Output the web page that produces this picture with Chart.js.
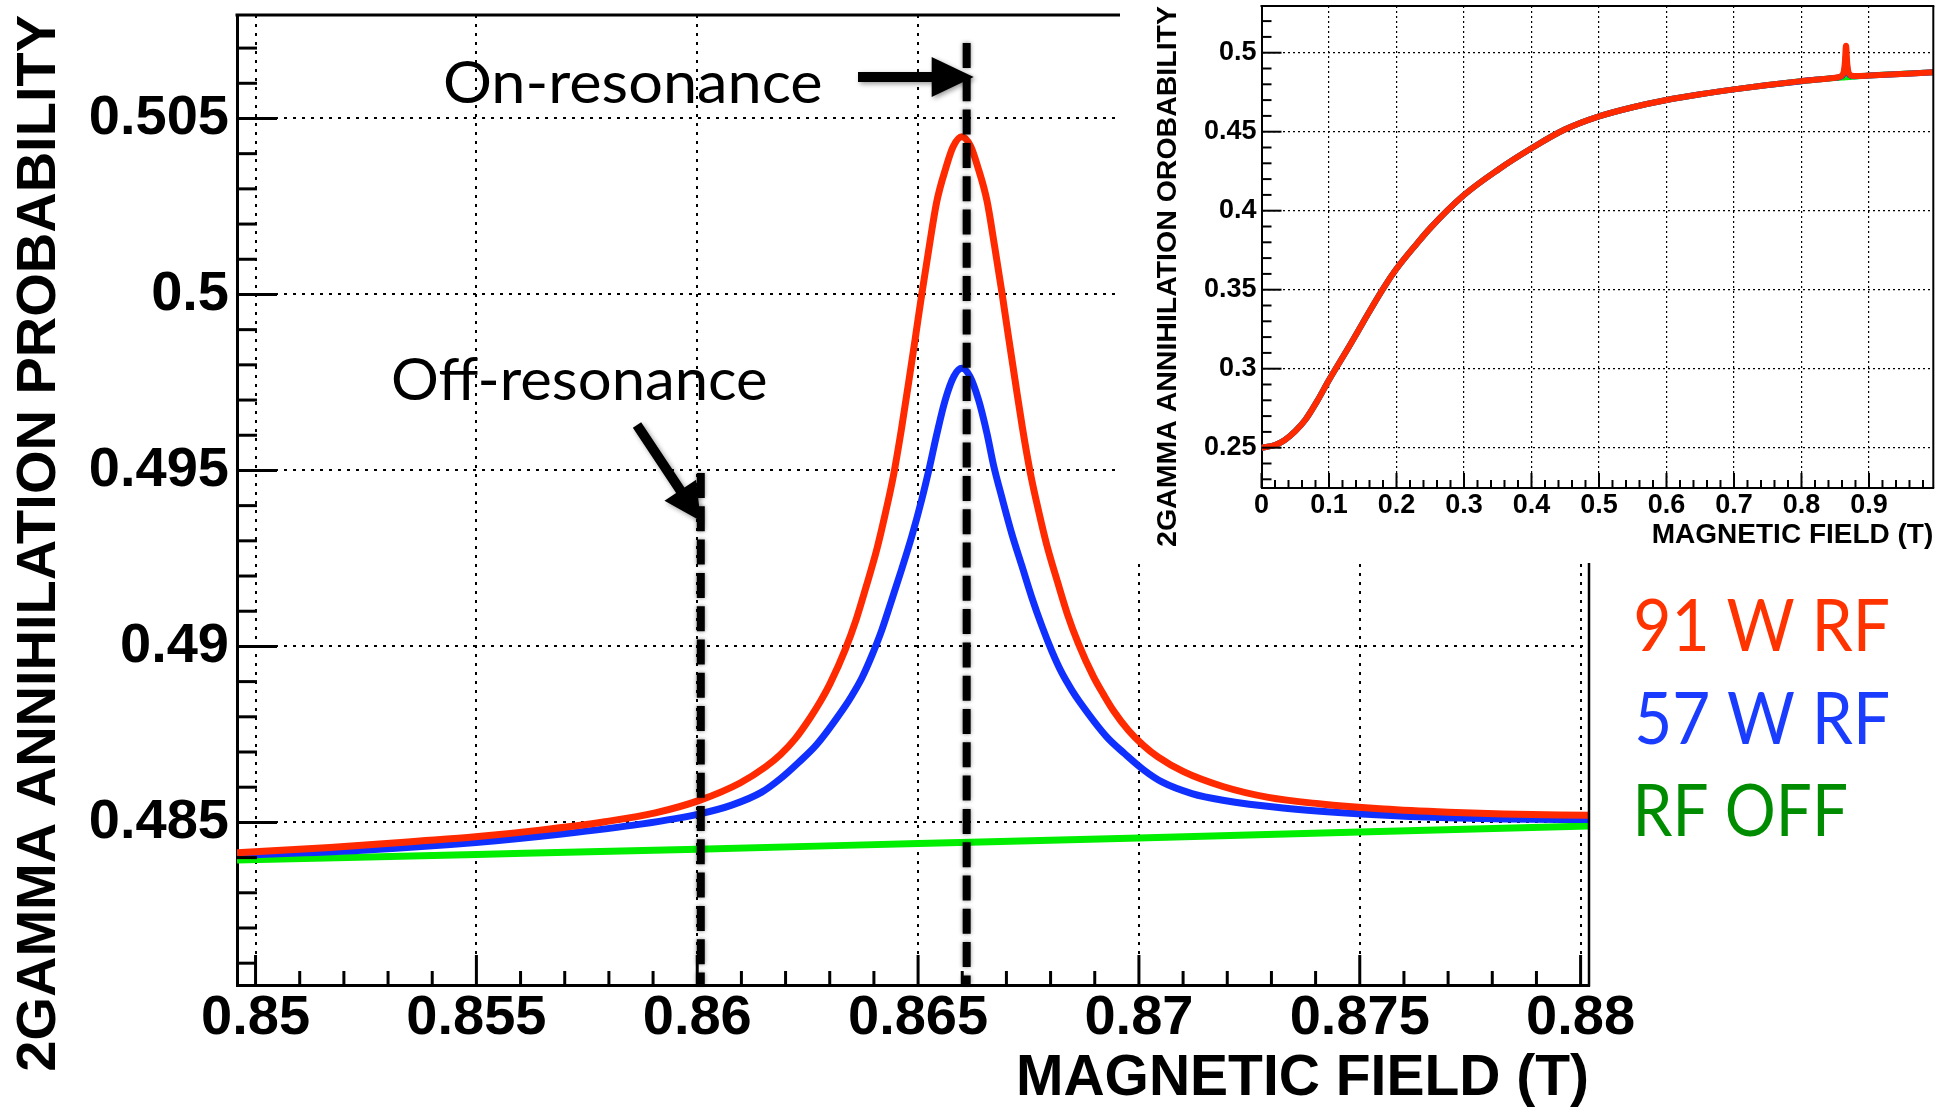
<!DOCTYPE html>
<html><head><meta charset="utf-8">
<script src="https://cdn.jsdelivr.net/npm/chart.js@4.4.1/dist/chart.umd.min.js"></script>
<style>
html,body{margin:0;padding:0;background:#fff;width:1955px;height:1108px;overflow:hidden}
#mainWrap{position:absolute;left:0;top:0;width:1955px;height:1108px}
#insetWrap{position:absolute;left:1120px;top:0;width:835px;height:563px;background:#fff}
canvas{display:block}
</style></head><body>
<div id="mainWrap"><canvas id="main" width="1955" height="1108"></canvas></div>
<div id="insetWrap"><canvas id="inset" width="835" height="563"></canvas></div>
<script>
// ---------- main plot data ----------
const fieldRed = [0.84958, 0.85169, 0.85372, 0.85498, 0.85644, 0.85791, 0.85905, 0.86008, 0.86097, 0.86155,
  0.86188, 0.86222, 0.86255, 0.86278, 0.86301, 0.86335, 0.86360, 0.86382, 0.86407, 0.86425,
  0.86444, 0.86462, 0.86478, 0.86493, 0.86508, 0.86525, 0.86542, 0.86563, 0.86579, 0.86599,
  0.86619, 0.86635, 0.86656, 0.86673, 0.86690, 0.86705, 0.86720, 0.86736, 0.86754, 0.86773,
  0.86791, 0.86816, 0.86838, 0.86863, 0.86897, 0.86920, 0.86942, 0.86976, 0.87010, 0.87043,
  0.87101, 0.87190, 0.87293, 0.87407, 0.87554, 0.87700, 0.87825, 0.88019];
const probRed = [0.48414, 0.48429, 0.48447, 0.48459, 0.48478, 0.48502, 0.48527, 0.48564, 0.48612, 0.48658,
  0.48692, 0.48738, 0.48796, 0.48842, 0.48895, 0.48991, 0.49077, 0.49168, 0.49278, 0.49373,
  0.49484, 0.49615, 0.49745, 0.49870, 0.49998, 0.50134, 0.50262, 0.50360, 0.50419, 0.50448,
  0.50421, 0.50363, 0.50266, 0.50139, 0.50004, 0.49877, 0.49753, 0.49623, 0.49494, 0.49384,
  0.49290, 0.49182, 0.49092, 0.49008, 0.48914, 0.48863, 0.48818, 0.48762, 0.48719, 0.48686,
  0.48644, 0.48602, 0.48571, 0.48553, 0.48538, 0.48529, 0.48524, 0.48520];

const fieldBlue = [0.84958, 0.85240, 0.85499, 0.85693, 0.85872, 0.86008, 0.86078, 0.86146, 0.86187, 0.86230,
  0.86271, 0.86332, 0.86350, 0.86373, 0.86395, 0.86418, 0.86440, 0.86463, 0.86486, 0.86508, 0.86526,
  0.86542, 0.86561, 0.86581, 0.86599, 0.86617, 0.86637, 0.86656, 0.86671, 0.86690, 0.86712,
  0.86735, 0.86757, 0.86780, 0.86803, 0.86825, 0.86848, 0.86866, 0.86927, 0.86968, 0.87011, 0.87052,
  0.87120, 0.87190, 0.87326, 0.87505, 0.87699, 0.87957, 0.88019];
const probBlue = [0.48406, 0.48421, 0.48443, 0.48467, 0.48495, 0.48525, 0.48549, 0.48586, 0.48623, 0.48671,
  0.48722, 0.48825, 0.48860, 0.48911, 0.48973, 0.49047, 0.49131, 0.49220, 0.49314, 0.49416, 0.49510,
  0.49601, 0.49698, 0.49767, 0.49790, 0.49768, 0.49700, 0.49605, 0.49514, 0.49422, 0.49321,
  0.49229, 0.49141, 0.49059, 0.48986, 0.48926, 0.48876, 0.48842, 0.48743, 0.48695, 0.48649, 0.48615,
  0.48582, 0.48563, 0.48541, 0.48524, 0.48513, 0.48508, 0.48508];

const fieldGreen = [0.84958, 0.8550, 0.8600, 0.8650, 0.8700, 0.8750, 0.88019];
const probGreen  = [0.48393, 0.48409, 0.48424, 0.48440, 0.48456, 0.48473, 0.48490];

const xTickValues = [0.85, 0.855, 0.86, 0.865, 0.87, 0.875, 0.88];
const xTickLabels = ['0.85', '0.855', '0.86', '0.865', '0.87', '0.875', '0.88'];
const yTickValues = [0.485, 0.49, 0.495, 0.5, 0.505];
const yTickLabels = ['0.485', '0.49', '0.495', '0.5', '0.505'];

const seriesNames = ['91 W RF', '57 W RF', 'RF OFF'];
const offResField = 0.86008;
const onResField = 0.8661;

// ---------- inset data (wide range) ----------
const insetFieldLow = [0, 0.02, 0.0346, 0.05, 0.065, 0.0818, 0.1, 0.1311, 0.15, 0.1805, 0.2, 0.2299, 0.25, 0.3, 0.35, 0.4, 0.45, 0.5, 0.55, 0.6, 0.65, 0.7, 0.75, 0.8];
const insetProbLow  = [0.25, 0.2517, 0.2549, 0.2605, 0.2677, 0.2790, 0.2928, 0.3150, 0.3290, 0.3509, 0.3632, 0.3790, 0.3890, 0.4099, 0.4258, 0.4395, 0.4515, 0.4597, 0.4655, 0.4701, 0.4737, 0.4768, 0.4795, 0.4820];
const insetFieldHigh = [0.9, 0.9953];
const insetProbHigh  = [0.4855, 0.4876];
const insetXTickValues = [0, 0.1, 0.2, 0.3, 0.4, 0.5, 0.6, 0.7, 0.8, 0.9];
const insetXTickLabels = ['0', '0.1', '0.2', '0.3', '0.4', '0.5', '0.6', '0.7', '0.8', '0.9'];
const insetYTickValues = [0.25, 0.3, 0.35, 0.4, 0.45, 0.5];
const insetYTickLabels = ['0.25', '0.3', '0.35', '0.4', '0.45', '0.5'];

const RED = '#ff2a00', BLUE = '#1030ff', GREEN = '#00ee00';
const TXT_RED = '#ff3300', TXT_BLUE = '#1a3cff', TXT_GREEN = '#008c00';
const AXFONT = "'Liberation Sans', Arial, sans-serif";
const NOTEFONT = "Lato, 'Open Sans', sans-serif";

const pts = (xs, ys) => xs.map((v, i) => ({x: v, y: ys[i]}));

function line(ctx, x1, y1, x2, y2) { ctx.beginPath(); ctx.moveTo(x1, y1); ctx.lineTo(x2, y2); ctx.stroke(); }

function fitText(ctx, text, left, baseline, size, targetW, color) {
  ctx.save();
  ctx.font = `${size}px ${NOTEFONT}`;
  const m = ctx.measureText(text);
  const ink = m.actualBoundingBoxLeft + m.actualBoundingBoxRight;
  const s = targetW / ink;
  ctx.translate(left, baseline);
  ctx.scale(s, 1);
  ctx.fillStyle = color;
  ctx.textBaseline = 'alphabetic';
  ctx.textAlign = 'left';
  ctx.fillText(text, m.actualBoundingBoxLeft, 0);
  ctx.restore();
}

function arrow(ctx, x0, y0, x1, y1, shaftW, headLen, headHalf) {
  const dx = x1 - x0, dy = y1 - y0, L = Math.hypot(dx, dy);
  const ux = dx / L, uy = dy / L, nx = -uy, ny = ux;
  const bx = x1 - ux * headLen, by = y1 - uy * headLen;
  ctx.beginPath();
  ctx.moveTo(x0 + nx * shaftW / 2, y0 + ny * shaftW / 2);
  ctx.lineTo(bx + nx * shaftW / 2, by + ny * shaftW / 2);
  ctx.lineTo(bx + nx * headHalf, by + ny * headHalf);
  ctx.lineTo(x1, y1);
  ctx.lineTo(bx - nx * headHalf, by - ny * headHalf);
  ctx.lineTo(bx - nx * shaftW / 2, by - ny * shaftW / 2);
  ctx.lineTo(x0 - nx * shaftW / 2, y0 - ny * shaftW / 2);
  ctx.closePath();
  ctx.fill();
}

const mainDecor = {
  id: 'mainDecor',
  afterDatasetsDraw(chart) {
    const {ctx, chartArea: a, scales: {x, y}} = chart;
    ctx.save();
    ctx.strokeStyle = '#000'; ctx.lineWidth = 3; ctx.lineCap = 'butt';
    for (let i = 0; i <= 30; i++) {
      const px = x.getPixelForValue(0.85 + i * 0.001);
      line(ctx, px, a.bottom, px, a.bottom - (i % 5 === 0 ? 30 : 14));
    }
    for (let i = 1; i <= 27; i++) {
      const v = 0.480 + i * 0.001;
      if (v < y.min || v > y.max) continue;
      const py = y.getPixelForValue(v);
      line(ctx, a.left, py, a.left + (i % 5 === 0 ? 40 : 20), py);
    }
    ctx.lineWidth = 3;
    line(ctx, a.left - 1.5, a.top, a.right, a.top);
    ctx.lineWidth = 2.5;
    line(ctx, a.right, a.top, a.right, a.bottom + 1.5);

    ctx.save();
    ctx.shadowColor = 'rgba(0,0,0,0.45)'; ctx.shadowBlur = 4;
    ctx.lineWidth = 8; ctx.setLineDash([25, 8.3]);
    const xOn = x.getPixelForValue(onResField);
    line(ctx, xOn, 43, xOn, a.bottom);
    const xOff = x.getPixelForValue(offResField);
    line(ctx, xOff, 473, xOff, a.bottom);
    ctx.restore();

    ctx.save();
    ctx.fillStyle = '#000';
    ctx.shadowColor = 'rgba(0,0,0,0.4)'; ctx.shadowBlur = 5; ctx.shadowOffsetX = 2; ctx.shadowOffsetY = 2;
    arrow(ctx, 858, 77, xOn + 7, 77, 10, 42, 20);
    arrow(ctx, 637, 425, xOff, 521, 10, 37, 19);
    ctx.restore();

    fitText(ctx, 'On-resonance', 445, 103, 58, 376, '#000');
    fitText(ctx, 'Off-resonance', 393, 400, 58, 373, '#000');
    fitText(ctx, seriesNames[0], 1636, 651, 71, 252, TXT_RED);
    fitText(ctx, seriesNames[1], 1637, 744, 71, 251, TXT_BLUE);
    fitText(ctx, seriesNames[2], 1638, 836, 71, 208, TXT_GREEN);
    ctx.restore();
  }
};

const lineDs = (label, data, color, w) => ({label, data, borderColor: color, borderWidth: w, pointRadius: 0,
  cubicInterpolationMode: 'monotone', borderJoinStyle: 'round'});

new Chart(document.getElementById('main'), {
  type: 'line',
  data: {
    datasets: [
      lineDs(seriesNames[0], pts(fieldRed, probRed), RED, 7),
      lineDs(seriesNames[1], pts(fieldBlue, probBlue), BLUE, 7),
      lineDs(seriesNames[2], pts(fieldGreen, probGreen), GREEN, 7)
    ]
  },
  options: {
    responsive: false, animation: false, events: [],
    layout: {autoPadding: false, padding: {left: 0, top: 15, right: 366, bottom: 0}},
    plugins: {legend: {display: false}, tooltip: {enabled: false}},
    scales: {
      x: {
        type: 'linear', position: 'bottom', min: 0.84958, max: 0.88019,
        afterBuildTicks: s => { s.ticks = xTickValues.map(v => ({value: v})); },
        afterFit: s => { s.height = 123; s.paddingLeft = 0; s.paddingRight = 0; },
        ticks: {autoSkip: false, maxRotation: 0, padding: 0, color: '#000',
          font: {family: AXFONT, weight: 'bold', size: 56},
          callback: (v, i) => xTickLabels[i]},
        grid: {color: '#000', lineWidth: 2, drawTicks: false},
        border: {display: true, color: '#000', width: 3, dash: [3, 6]},
        title: {display: true, text: 'MAGNETIC FIELD (T)', align: 'end', color: '#000',
          font: {family: AXFONT, weight: 'bold', size: 57, lineHeight: 1.0}, padding: {top: 0, bottom: 0}}
      },
      y: {
        type: 'linear', position: 'left', min: 0.48038, max: 0.50794,
        afterBuildTicks: s => { s.ticks = yTickValues.map(v => ({value: v})); },
        afterFit: s => { s.width = 237; s.paddingTop = 0; s.paddingBottom = 0; },
        ticks: {autoSkip: false, padding: 8, color: '#000',
          font: {family: AXFONT, weight: 'bold', size: 56},
          callback: (v, i) => yTickLabels[i]},
        grid: {color: '#000', lineWidth: 2, drawTicks: false},
        border: {display: true, color: '#000', width: 3, dash: [3, 6]},
        title: {display: true, text: '2GAMMA ANNIHILATION PROBABILITY', align: 'end', color: '#000',
          font: {family: AXFONT, weight: 'bold', size: 56, lineHeight: 1.2}, padding: {top: 6, bottom: 0}}
      }
    }
  },
  plugins: [mainDecor]
});

// ---------- inset ----------
const insetDecor = {
  id: 'insetDecor',
  afterDatasetsDraw(chart) {
    const {ctx, chartArea: a, scales: {x, y}} = chart;
    ctx.save();
    ctx.strokeStyle = '#000'; ctx.lineWidth = 2;
    for (let i = 0; i <= 49; i++) {
      const px = x.getPixelForValue(i * 0.02);
      line(ctx, px, a.bottom, px, a.bottom - (i % 5 === 0 ? 15 : 8));
    }
    for (let i = 23; i <= 52; i++) {
      const py = y.getPixelForValue(i * 0.01);
      line(ctx, a.left, py, a.left + (i % 5 === 0 ? 20 : 10), py);
    }
    line(ctx, a.left - 1, a.top, a.right + 1, a.top);
    line(ctx, a.right, a.top, a.right, a.bottom);
    ctx.restore();
  }
};

new Chart(document.getElementById('inset'), {
  type: 'line',
  data: {
    datasets: [
      lineDs(seriesNames[0], pts(insetFieldLow.concat(fieldRed, insetFieldHigh), insetProbLow.concat(probRed, insetProbHigh)), RED, 6),
      lineDs(seriesNames[1], pts(insetFieldLow.concat(fieldBlue, insetFieldHigh), insetProbLow.concat(probBlue, insetProbHigh)), BLUE, 6),
      lineDs(seriesNames[2], pts(insetFieldLow.concat(fieldGreen, insetFieldHigh), insetProbLow.concat(probGreen, insetProbHigh)), GREEN, 6)
    ]
  },
  options: {
    responsive: false, animation: false, events: [],
    layout: {autoPadding: false, padding: {left: 0, top: 6, right: 21.7, bottom: 0}},
    plugins: {legend: {display: false}, tooltip: {enabled: false}},
    scales: {
      x: {
        type: 'linear', position: 'bottom', min: 0, max: 0.9953,
        afterBuildTicks: s => { s.ticks = insetXTickValues.map(v => ({value: v})); },
        afterFit: s => { s.height = 75; s.paddingLeft = 0; s.paddingRight = 0; },
        ticks: {autoSkip: false, maxRotation: 0, padding: 1, color: '#000',
          font: {family: AXFONT, weight: 'bold', size: 27},
          callback: (v, i) => insetXTickLabels[i]},
        grid: {color: '#000', lineWidth: 1.2, drawTicks: false},
        border: {display: true, color: '#000', width: 2, dash: [2, 3]},
        title: {display: true, text: 'MAGNETIC FIELD (T)', align: 'end', color: '#000',
          font: {family: AXFONT, weight: 'bold', size: 28, lineHeight: 1.0}, padding: {top: 0, bottom: 14}}
      },
      y: {
        type: 'linear', position: 'left', min: 0.22449, max: 0.52956,
        afterBuildTicks: s => { s.ticks = insetYTickValues.map(v => ({value: v})); },
        afterFit: s => { s.width = 141.5; s.paddingTop = 0; s.paddingBottom = 0; },
        ticks: {autoSkip: false, padding: 5, color: '#000',
          font: {family: AXFONT, weight: 'bold', size: 27},
          callback: (v, i) => insetYTickLabels[i]},
        grid: {color: '#000', lineWidth: 1.2, drawTicks: false},
        border: {display: true, color: '#000', width: 2, dash: [2, 3]},
        title: {display: true, text: '2GAMMA ANNIHILATION OROBABILITY', align: 'end', color: '#000',
          font: {family: AXFONT, weight: 'bold', size: 28.5, lineHeight: 1.2}, padding: {top: 31, bottom: 0}}
      }
    }
  },
  plugins: [insetDecor]
});
</script></body></html>
